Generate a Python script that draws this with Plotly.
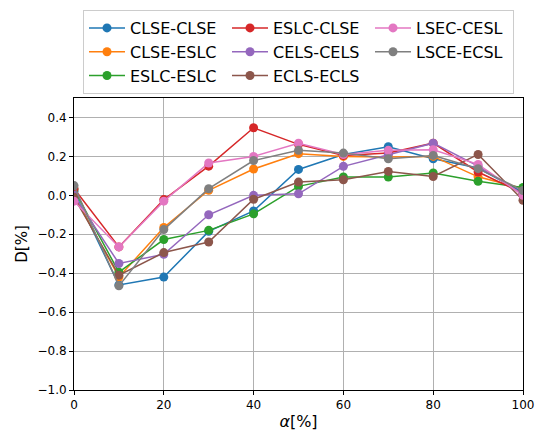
import plotly.graph_objects as go

# Mixing ratio alpha [%]
alpha = [0, 10, 20, 30, 40, 50, 60, 70, 80, 90, 100]

# Deviation D [%] for each sequence pair
clse_clse = [0.02, -0.46, -0.42, -0.185, -0.08, 0.133, 0.21, 0.25, 0.188, 0.14, 0.015]
clse_eslc = [0.0, -0.42, -0.165, 0.026, 0.135, 0.214, 0.20, 0.197, 0.20, 0.095, 0.035]
eslc_eslc = [0.03, -0.395, -0.227, -0.18, -0.095, 0.046, 0.094, 0.094, 0.115, 0.072, 0.04]
eslc_clse = [0.035, -0.265, -0.022, 0.15, 0.347, 0.262, 0.205, 0.217, 0.268, 0.12, 0.01]
cels_cels = [0.0, -0.35, -0.303, -0.10, 0.0, 0.008, 0.149, 0.21, 0.268, 0.15, 0.005]
ecls_ecls = [-0.01, -0.41, -0.294, -0.24, -0.02, 0.068, 0.08, 0.123, 0.097, 0.21, -0.025]
lsec_cesl = [-0.03, -0.265, -0.03, 0.166, 0.20, 0.268, 0.21, 0.231, 0.234, 0.159, 0.0]
lsce_ecsl = [0.05, -0.465, -0.176, 0.034, 0.179, 0.231, 0.217, 0.188, 0.205, 0.137, 0.025]

names = ["CLSE-CLSE", "CLSE-ESLC", "ESLC-ESLC", "ESLC-CLSE",
         "CELS-CELS", "ECLS-ECLS", "LSEC-CESL", "LSCE-ECSL"]
series = [clse_clse, clse_eslc, eslc_eslc, eslc_clse,
          cels_cels, ecls_ecls, lsec_cesl, lsce_ecsl]
colors = ["#1f77b4", "#ff7f0e", "#2ca02c", "#d62728",
          "#9467bd", "#8c564b", "#e377c2", "#7f7f7f"]
# legend laid out column by column in three columns (3, 3, 2)
ranks = [1, 4, 7, 2, 5, 8, 3, 6]

x_ticks = [0, 20, 40, 60, 80, 100]
y_ticks = [-1.0, -0.8, -0.6, -0.4, -0.2, 0.0, 0.2, 0.4]

FONT = "DejaVu Sans"

fig = go.Figure()
for name, ys, c, r in zip(names, series, colors, ranks):
    fig.add_trace(go.Scatter(
        x=alpha, y=ys, name=name, mode="lines+markers",
        line=dict(color=c, width=1.5),
        marker=dict(color=c, size=9),
        legendrank=r,
    ))

axis_common = dict(
    showline=True, linecolor="black", linewidth=1, mirror=True,
    ticks="outside", ticklen=4, tickcolor="black", tickwidth=1,
    showgrid=True, gridcolor="#b0b0b0", gridwidth=1,
    zeroline=False, automargin=False,
    tickfont=dict(family=FONT, size=12, color="black"),
)

fig.update_layout(
    width=536, height=435,
    margin=dict(l=74, r=13, t=98, b=45),
    paper_bgcolor="white", plot_bgcolor="white",
    font=dict(family=FONT, color="black"),
    xaxis=dict(range=[0, 100], tickvals=x_ticks,
               title=dict(text="<i>α</i>[%]", font=dict(family=FONT, size=16), standoff=4),
               **axis_common),
    yaxis=dict(range=[-1.0, 0.5], tickvals=y_ticks, tickformat=".1f",
               title=dict(text="D[%]", font=dict(family=FONT, size=15), standoff=6),
               **axis_common),
    legend=dict(
        orientation="h", x=0.5, xanchor="center",
        yref="container", y=0.977, yanchor="top",
        entrywidth=92, entrywidthmode="pixels",
        bgcolor="white", bordercolor="#cccccc", borderwidth=1,
        font=dict(family=FONT, size=16, color="black"),
        itemwidth=36, tracegroupgap=0,
    ),
    showlegend=True,
)

fig.write_html("out.html")
